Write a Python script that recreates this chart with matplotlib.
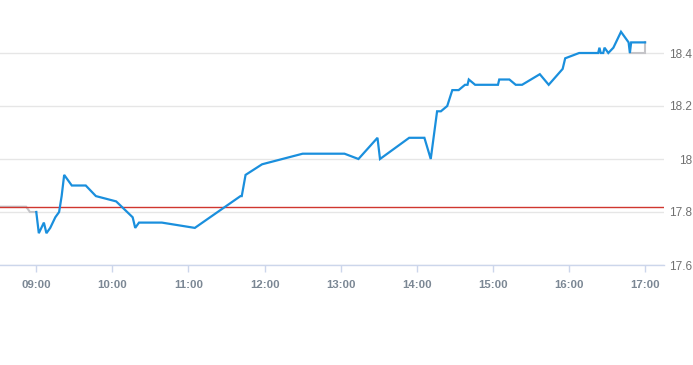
import matplotlib
matplotlib.use("Agg")
import matplotlib.pyplot as plt
from matplotlib.ticker import FuncFormatter

plt.rcParams["font.family"] = ["Liberation Sans", "DejaVu Sans"]

# intraday price (blue)
times = [
    "09:00", "09:02", "09:06", "09:08", "09:11", "09:15", "09:18", "09:20", "09:22", "09:28",
    "09:39", "09:47", "10:03", "10:16", "10:18", "10:21", "10:39", "11:05", "11:41", "11:42",
    "11:45", "11:58", "12:30", "13:03", "13:14", "13:29", "13:31", "13:54", "14:06", "14:11",
    "14:16", "14:19", "14:24", "14:28", "14:33", "14:38", "14:40", "14:41", "14:46", "15:04",
    "15:05", "15:13", "15:18", "15:23", "15:37", "15:44", "15:55", "15:57", "16:08", "16:23",
    "16:24", "16:25", "16:27", "16:28", "16:31", "16:35", "16:41", "16:47", "16:48", "16:49",
    "17:00",
]
prices = [
    17.80, 17.72, 17.76, 17.72, 17.74, 17.78, 17.80, 17.86, 17.94, 17.90,
    17.90, 17.86, 17.84, 17.78, 17.74, 17.76, 17.76, 17.74, 17.86, 17.86,
    17.94, 17.98, 18.02, 18.02, 18.00, 18.08, 18.00, 18.08, 18.08, 18.00,
    18.18, 18.18, 18.20, 18.26, 18.26, 18.28, 18.28, 18.30, 18.28, 18.28,
    18.30, 18.30, 18.28, 18.28, 18.32, 18.28, 18.34, 18.38, 18.40, 18.40,
    18.42, 18.40, 18.40, 18.42, 18.40, 18.42, 18.48, 18.44, 18.40, 18.44,
    18.44,
]

# grey series outside the session
pre_times = ["08:30", "08:52", "08:55", "09:00"]
pre_prices = [17.82, 17.82, 17.80, 17.80]
post_times = ["16:48", "17:00", "17:00"]
post_prices = [18.40, 18.40, 18.44]

prev_close = 17.82
y_ticks = [17.6, 17.8, 18.0, 18.2, 18.4]
x_ticks = ["09:00", "10:00", "11:00", "12:00", "13:00", "14:00", "15:00", "16:00", "17:00"]


def to_hours(t):
    h, m = t.split(":")
    return int(h) + int(m) / 60


fig = plt.figure(figsize=(6.93, 3.65), dpi=100)
ax = fig.add_axes([0, 100 / 365, 664 / 693, 265 / 365])

ax.plot([to_hours(t) for t in pre_times], pre_prices, color="#c4c4c8", lw=1.5, zorder=2,
        solid_joinstyle="miter")
ax.plot([to_hours(t) for t in post_times], post_prices, color="#c4c4c8", lw=1.5, zorder=2,
        solid_joinstyle="miter")
ax.plot([to_hours(t) for t in times], prices, color="#1a8fdd", lw=1.6, zorder=3,
        solid_joinstyle="miter")
ax.axhline(prev_close, color="#d0362f", lw=1, zorder=2)

ax.set_xlim(8 + 31.4 / 60, 17 + 14.9 / 60)
ax.set_ylim(17.6, 18.6)

ax.set_yticks(y_ticks)
ax.yaxis.set_major_formatter(FuncFormatter(lambda v, p: f"{v:g}"))
ax.yaxis.tick_right()
ax.tick_params(axis="y", length=0, pad=20, labelsize=8.5, labelcolor="#707070")
for lbl in ax.get_yticklabels():
    lbl.set_horizontalalignment("right")
ax.grid(axis="y", color="#e6e6e6", lw=1, zorder=0)

ax.set_xticks([to_hours(t) for t in x_ticks])
ax.set_xticklabels(x_ticks)
ax.tick_params(axis="x", length=5, width=1, color="#ccd6eb", pad=6, labelsize=8.2,
               labelcolor="#7b8794")
for lbl in ax.get_xticklabels():
    lbl.set_fontweight("bold")

for side in ["top", "left", "right"]:
    ax.spines[side].set_visible(False)
ax.spines["bottom"].set_color("#ccd6eb")
ax.spines["bottom"].set_linewidth(1)

fig.savefig("out.png", dpi=100)
